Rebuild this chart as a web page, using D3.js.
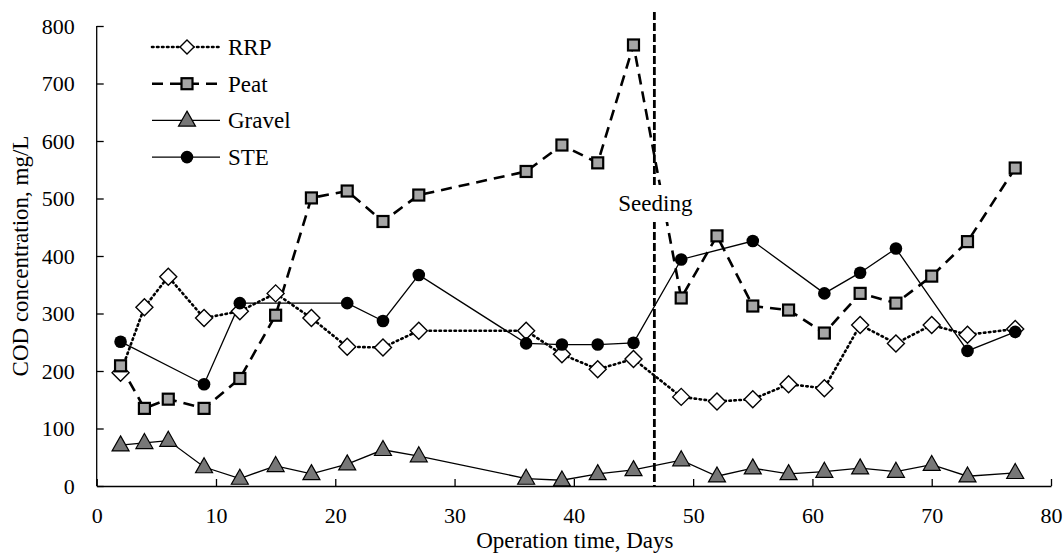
<!DOCTYPE html>
<html>
<head>
<meta charset="utf-8">
<script src="https://cdn.jsdelivr.net/npm/d3@7"></script>
<style>
  html, body { margin: 0; padding: 0; background: #fff; }
  svg { display: block; font-family: "Liberation Serif", "Times New Roman", serif; }
</style>
</head>
<body>
<svg id="chart" width="1063" height="554"></svg>
<script>
// Operation days for each sampling point
const daysRRP    = [2, 4, 6, 9, 12, 15, 18, 21, 24, 27, 36, 39, 42, 45, 49, 52, 55, 58, 61, 64, 67, 70, 73, 77];
const rrp        = [197, 311, 364, 292, 304, 335, 292, 242, 241, 270, 270, 229, 203, 221, 155, 147, 151, 177, 170, 280, 248, 280, 263, 273];

const daysPeat   = [2, 4, 6, 9, 12, 15, 18, 21, 24, 27, 36, 39, 42, 45, 49, 52, 55, 58, 61, 64, 67, 70, 73, 77];
const peat       = [209, 135, 151, 135, 187, 297, 501, 513, 460, 506, 547, 593, 562, 767, 327, 435, 313, 306, 266, 335, 318, 365, 425, 553];

const daysGravel = [2, 4, 6, 9, 12, 15, 18, 21, 24, 27, 36, 39, 42, 45, 49, 52, 55, 58, 61, 64, 67, 70, 73, 77];
const gravel     = [71, 75, 79, 33, 13, 35, 21, 38, 63, 52, 13, 10, 21, 28, 45, 17, 31, 21, 25, 31, 25, 37, 17, 23];

const daysSTE    = [2, 9, 12, 21, 24, 27, 36, 39, 42, 45, 49, 55, 61, 64, 67, 73, 77];
const ste        = [251, 177, 318, 318, 287, 367, 248, 246, 246, 249, 394, 426, 335, 371, 413, 235, 268];

const seedingDay = 46.75;
const xTicks = [0, 10, 20, 30, 40, 50, 60, 70, 80];
const yTicks = [0, 100, 200, 300, 400, 500, 600, 700, 800];
const seriesNames = ["RRP", "Peat", "Gravel", "STE"];

const FONT = "'Liberation Serif', 'Times New Roman', serif";

const svg = d3.select("#chart");
const x = d3.scaleLinear().domain([0, 80]).range([96.7, 1051]);
const y = d3.scaleLinear().domain([0, 800]).range([486, 26]);

const zip = (xs, ys) => xs.map((d, i) => [d, ys[i]]);

const series = [
  { name: "RRP",    pts: zip(daysRRP, rrp),       dash: "1.5 3.5", width: 2.6, cap: "round", marker: "diamond" },
  { name: "Peat",   pts: zip(daysPeat, peat),     dash: "11 7",    width: 2.6, cap: "butt",  marker: "square" },
  { name: "Gravel", pts: zip(daysGravel, gravel), dash: null,      width: 1.3, cap: "butt",  marker: "triangle" },
  { name: "STE",    pts: zip(daysSTE, ste),       dash: null,      width: 1.3, cap: "butt",  marker: "circle" }
];

// Axes with inward ticks
const xAxis = d3.axisBottom(x).tickValues(xTicks).tickSizeInner(-7).tickSizeOuter(0).tickPadding(21);
const yAxis = d3.axisLeft(y).tickValues(yTicks).tickSizeInner(-7).tickSizeOuter(0).tickPadding(22);

const gx = svg.append("g").attr("transform", `translate(0,${y(0)})`).call(xAxis);
const gy = svg.append("g").attr("transform", `translate(${x(0)},0)`).call(yAxis);
[gx, gy].forEach(g => {
  g.attr("font-family", FONT).attr("font-size", 22);
  g.select(".domain").attr("stroke", "#000").attr("stroke-width", 1.3);
  g.selectAll(".tick line").attr("stroke", "#000").attr("stroke-width", 1.3);
  g.selectAll(".tick text").attr("fill", "#000")
    .style("font-size", "22px").style("font-family", FONT);
});
gy.select(".domain").attr("d", `M0,${y(800)}V${y(0)}`);

// Axis titles
svg.append("text")
  .attr("x", (x(0) + x(80)) / 2 + 1)
  .attr("y", 548)
  .attr("text-anchor", "middle")
  .style("font-family", FONT)
  .style("font-size", "23px")
  .text("Operation time, Days");

svg.append("text")
  .attr("transform", `translate(28,${(y(0) + y(800)) / 2}) rotate(-90)`)
  .attr("text-anchor", "middle")
  .style("font-family", FONT)
  .style("font-size", "23px")
  .text("COD concentration, mg/L");

// Marker drawing
function drawMarker(g, type, cx, cy) {
  if (type === "diamond") {
    const r = 8.5;
    g.append("path").attr("d", `M${cx},${cy - r}L${cx + r},${cy}L${cx},${cy + r}L${cx - r},${cy}Z`)
      .attr("fill", "#fff").attr("stroke", "#000").attr("stroke-width", 1.4);
  } else if (type === "square") {
    const s = 11;
    g.append("rect").attr("x", cx - s / 2).attr("y", cy - s / 2).attr("width", s).attr("height", s)
      .attr("fill", "#a6a6a6").attr("stroke", "#000").attr("stroke-width", 2.2);
  } else if (type === "triangle") {
    const w = 17, h = 15;
    g.append("path").attr("d", `M${cx},${cy - h * 0.62}L${cx + w / 2},${cy + h * 0.38}L${cx - w / 2},${cy + h * 0.38}Z`)
      .attr("fill", "#777").attr("stroke", "#000").attr("stroke-width", 1.2);
  } else if (type === "circle") {
    g.append("circle").attr("cx", cx).attr("cy", cy).attr("r", 6.3).attr("fill", "#000");
  }
}

const line = d3.line().x(d => x(d[0])).y(d => y(d[1]));

// Series lines, then markers on top
const plot = svg.append("g");
series.forEach(s => {
  plot.append("path").datum(s.pts).attr("d", line)
    .attr("fill", "none").attr("stroke", "#000")
    .attr("stroke-width", s.width)
    .attr("stroke-linecap", s.cap)
    .attr("stroke-dasharray", s.dash);
});

// Seeding marker line
svg.append("line")
  .attr("x1", x(seedingDay)).attr("x2", x(seedingDay))
  .attr("y1", 12).attr("y2", y(0))
  .attr("stroke", "#000").attr("stroke-width", 2.8).attr("stroke-dasharray", "8 3");

series.forEach(s => {
  const g = plot.append("g");
  s.pts.forEach(p => drawMarker(g, s.marker, x(p[0]), y(p[1])));
});

// Seeding label on a white backing
const seedX = x(seedingDay) + 1;
svg.append("rect").attr("x", seedX - 44).attr("y", 185).attr("width", 88).attr("height", 37).attr("fill", "#fff");
svg.append("text").attr("x", seedX).attr("y", 211).attr("text-anchor", "middle")
  .style("font-family", FONT).style("font-size", "23px").text("Seeding");

// Legend
const legend = svg.append("g");
series.forEach((s, i) => {
  const ly = 47 + i * 36.7;
  legend.append("line").attr("x1", 152).attr("x2", 220).attr("y1", ly).attr("y2", ly)
    .attr("stroke", "#000").attr("stroke-width", s.width)
    .attr("stroke-linecap", s.cap)
    .attr("stroke-dasharray", s.dash);
  const mg = legend.append("g");
  if (s.marker === "diamond") {
    const r = 7;
    mg.append("path").attr("d", `M187,${ly - r}L${187 + r},${ly}L187,${ly + r}L${187 - r},${ly}Z`)
      .attr("fill", "#fff").attr("stroke", "#000").attr("stroke-width", 1.4);
  } else {
    drawMarker(mg, s.marker, 187, ly);
  }
  legend.append("text").attr("x", 228).attr("y", ly + 8)
    .style("font-family", FONT).style("font-size", "23px").text(seriesNames[i]);
});
</script>
</body>
</html>
